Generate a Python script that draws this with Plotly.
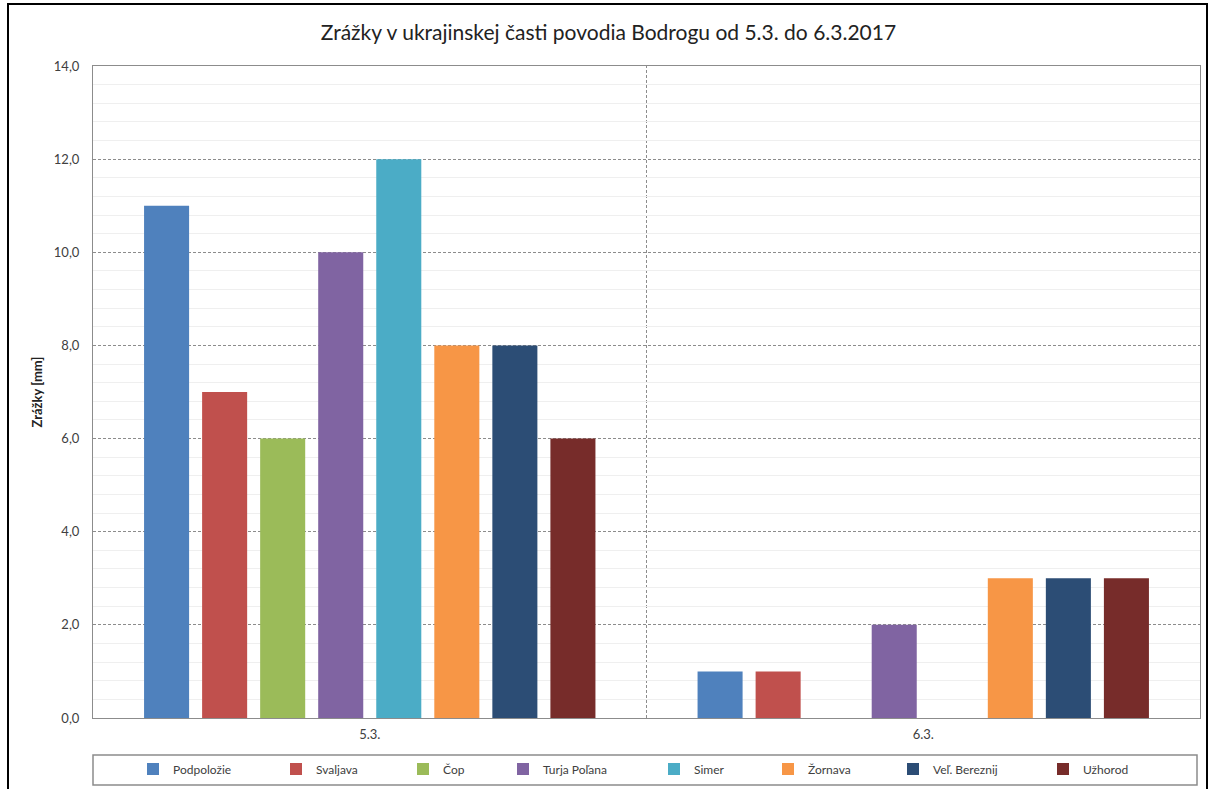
import plotly.graph_objects as go

# Daily precipitation (mm) at gauges in the Ukrainian part of the Bodrog basin
days = ["5.3.", "6.3."]
stations = ["Podpoložie", "Svaljava", "Čop", "Turja Poľana", "Simer",
            "Žornava", "Veľ. Bereznij", "Užhorod"]
podpolozie = [11, 1]
svaljava = [7, 1]
cop = [6, 0]
turja_polana = [10, 2]
simer = [12, 0]
zornava = [8, 3]
vel_bereznij = [8, 3]
uzhorod = [6, 3]

series = [podpolozie, svaljava, cop, turja_polana, simer, zornava, vel_bereznij, uzhorod]
colors = ["#4F81BD", "#C0504D", "#9BBB59", "#8064A2", "#4BACC6",
          "#F79646", "#2C4D75", "#772C2A"]

W, H = 1217, 789
FONT = "Lato"

# left edge (px) of each legend entry's text
legend_text_x = [173, 316, 443, 543, 694, 808, 933, 1083]

fig = go.Figure()
for i, (name, vals, col) in enumerate(zip(stations, series, colors)):
    lg = "legend" if i == 0 else f"legend{i + 1}"
    fig.add_trace(go.Bar(
        x=days, y=vals, name=name, marker_color=col,
        marker_line_width=0, legend=lg,
    ))

layout_legends = {}
for i, tx in enumerate(legend_text_x):
    key = "legend" if i == 0 else f"legend{i + 1}"
    layout_legends[key] = dict(
        xref="container", yref="container",
        x=(tx - 40) / W, y=1 - 769 / H,
        xanchor="left", yanchor="middle",
        orientation="h", bgcolor="rgba(0,0,0,0)",
        font=dict(family=FONT, size=12, color="#404040"),
        itemwidth=30, tracegroupgap=0,
    )

fig.update_layout(
    width=W, height=H,
    margin=dict(l=93, r=17, t=66, b=71),
    paper_bgcolor="white", plot_bgcolor="white",
    separators=", ",
    barmode="group", bargap=0.161, bargroupgap=0.224,
    title=dict(
        text="Zrážky v ukrajinskej časti povodia Bodrogu od 5.3. do 6.3.2017",
        x=0.5, xref="container", xanchor="center",
        y=1 - 33 / H, yref="container", yanchor="middle",
        font=dict(family=FONT, size=21, color="#222222"),
    ),
    font=dict(family=FONT, size=12, color="#404040"),
    xaxis=dict(
        type="category", showgrid=False, ticks="",
        showline=True, linecolor="#8C8C8C", linewidth=1, mirror=True,
        tickfont=dict(family=FONT, size=13, color="#404040"),
        ticklabelstandoff=4,
    ),
    yaxis=dict(
        range=[0, 14], dtick=2, tickformat=".1f",
        showgrid=True, gridcolor="#8C8C8C", gridwidth=1, griddash="3px,2px",
        minor=dict(dtick=0.4, showgrid=True, gridcolor="#EFEFEF", gridwidth=1,
                   griddash="solid"),
        showline=True, linecolor="#8C8C8C", linewidth=1, mirror=True,
        zeroline=False, ticks="",
        ticklabelstandoff=10,
        tickfont=dict(family=FONT, size=13, color="#404040"),
        title=dict(text="<b>Zrážky [mm]</b>", standoff=8,
                   font=dict(family=FONT, size=13, color="#222222")),
    ),
    showlegend=True,
    **layout_legends,
)

# dotted divider between the two days
fig.add_shape(type="line", xref="x", yref="paper", x0=0.5, x1=0.5, y0=0, y1=1,
              line=dict(color="#8C8C8C", width=1, dash="3px,2px"), layer="below")

# frame around the legend row
fig.add_shape(type="rect", xref="paper", yref="paper",
              x0=0, x1=(1197 - 93) / 1107, y0=(718 - 755) / 652, y1=(718 - 785) / 652,
              line=dict(color="#8C8C8C", width=1.5), fillcolor="rgba(0,0,0,0)")

# outer chart border
fig.add_shape(type="rect", xref="paper", yref="paper",
              x0=(8 - 93) / 1107, x1=(1207 - 93) / 1107,
              y0=-0.2, y1=1 + (66 - 4) / 652,
              line=dict(color="#000000", width=2), fillcolor="rgba(0,0,0,0)")

fig.write_html("out.html")
